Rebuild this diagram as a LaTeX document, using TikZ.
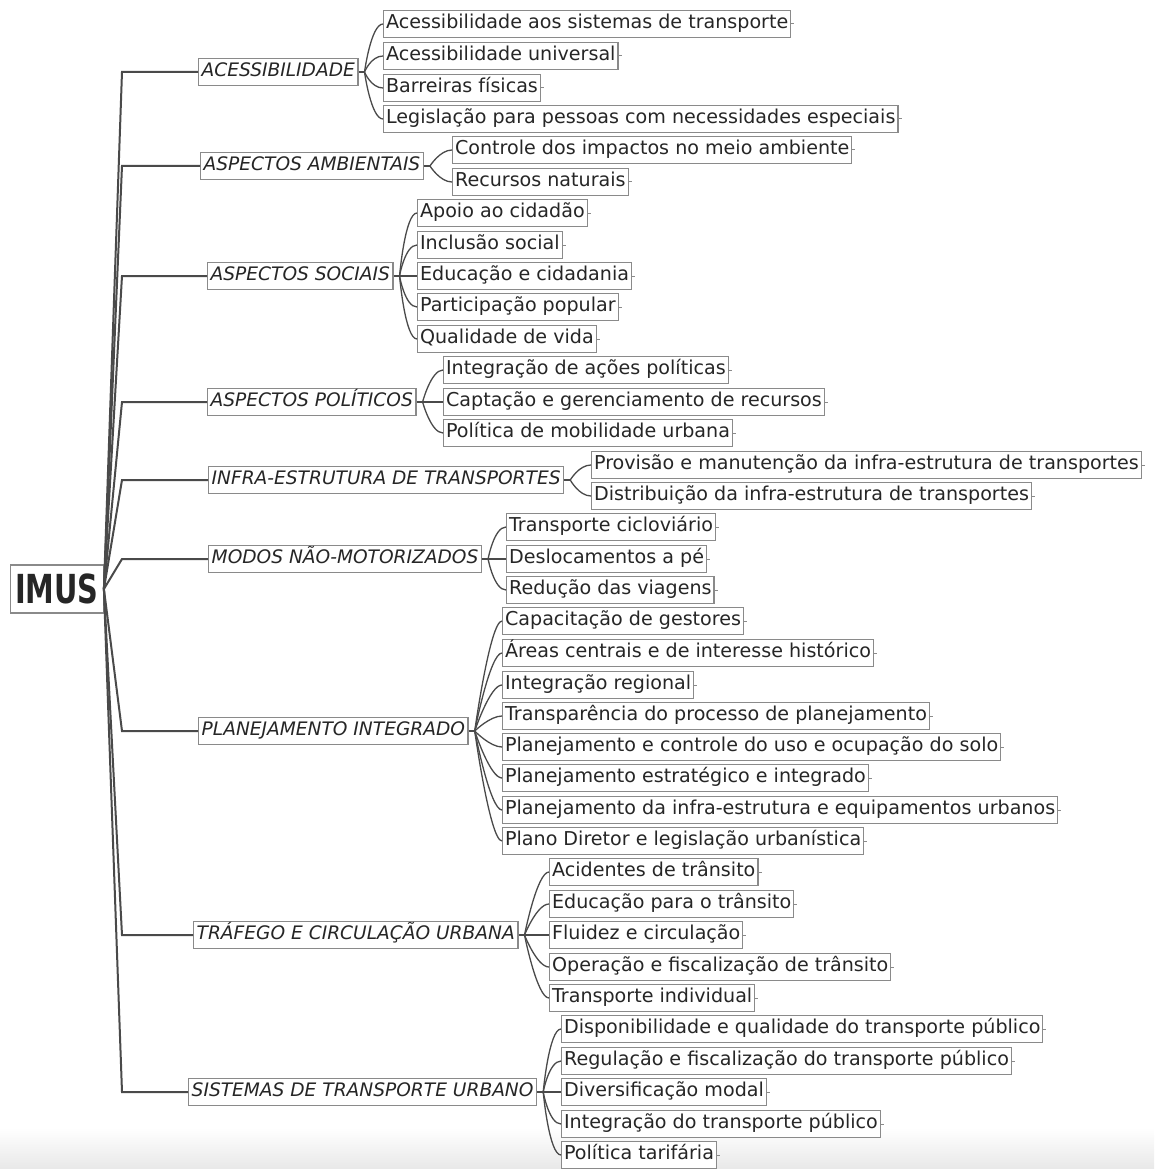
\documentclass[tikz,border=0pt]{standalone}
\usepackage{fontspec}
\setmainfont{DejaVu Sans}
\usepackage{graphicx}
\usetikzlibrary{calc}
\definecolor{ink}{HTML}{262626}
\definecolor{linec}{HTML}{4A4A4A}
\definecolor{boxc}{HTML}{8A8A8A}
\tikzset{
  leafbox/.style={draw=boxc, line width=1.2pt, fill=white, inner xsep=2.5pt, inner ysep=0pt,
    text height=14pt, text depth=4.5pt, minimum height=27pt, text=ink,
    font=\fontsize{19.1}{20}\selectfont, anchor=west},
  catbox/.style={draw=boxc, line width=1.4pt, fill=white, inner xsep=3pt, inner ysep=0pt,
    text height=14pt, text depth=4.5pt, minimum height=27pt, text=ink,
    font=\fontsize{18.6}{20}\selectfont\itshape, anchor=west},
  rootbox/.style={draw=boxc, line width=1.4pt, fill=white, inner xsep=4.5pt, inner ysep=0pt,
    minimum height=48pt, text=ink, font=\fontsize{40}{40}\selectfont\bfseries, anchor=west},
  trunk/.style={draw=linec, line width=2pt},
  twig/.style={draw=linec, line width=1.3pt},
  tick/.style={draw=boxc, line width=1pt}
}
\newcommand\mmbranch[6]{%
  \node[catbox] (#1) at (#2,#3) {#4};
  \draw[trunk] (imus.east) -- (122,#3) -- (#1.west);
  \coordinate (#1s) at ([xshift=6pt]#1.east);
  \draw[twig] (#1.east) -- (#1s);
  \foreach \yy/\tt [count=\i] in {#6} {
    \node[leafbox] (#1-\i) at (#5,\yy) {\tt};
    \draw[twig] (#1s) .. controls (#1s) and ([xshift=-12pt]#1-\i.west) .. (#1-\i.west);
    \draw[tick] (#1-\i.east) -- ++(3,0);
  }
}
\begin{document}
\begin{tikzpicture}[x=1pt,y=-1pt]
\useasboundingbox (0,0) rectangle (1154,1169);
\fill[white] (0,0) rectangle (1154,1169);
\shade[top color=white, bottom color=black!9] (0,1128) rectangle (1154,1169);

\node[rootbox] (imus) at (10,589) {\scalebox{0.72}[1]{IMUS}};

\mmbranch{acc}{198}{72}{ACESSIBILIDADE}{383}{24/{Acessibilidade aos sistemas de transporte},56/{Acessibilidade universal},88/{Barreiras físicas},119/{Legislação para pessoas com necessidades especiais}}

\mmbranch{amb}{200}{166}{ASPECTOS AMBIENTAIS}{452}{150/{Controle dos impactos no meio ambiente},182/{Recursos naturais}}

\mmbranch{soc}{207}{276}{ASPECTOS SOCIAIS}{417}{213/{Apoio ao cidadão},245/{Inclusão social},276/{Educação e cidadania},307/{Participação popular},339/{Qualidade de vida}}

\mmbranch{pol}{207}{402}{ASPECTOS POLÍTICOS}{443}{370/{Integração de ações políticas},402/{Captação e gerenciamento de recursos},433/{Política de mobilidade urbana}}

\mmbranch{inf}{208}{480}{INFRA-ESTRUTURA DE TRANSPORTES}{591}{465/{Provisão e manutenção da infra-estrutura de transportes},496/{Distribuição da infra-estrutura de transportes}}

\mmbranch{mod}{208}{559}{MODOS NÃO-MOTORIZADOS}{506}{527/{Transporte cicloviário},559/{Deslocamentos a pé},590/{Redução das viagens}}

\mmbranch{pla}{198}{731}{PLANEJAMENTO INTEGRADO}{502}{621/{Capacitação de gestores},653/{Áreas centrais e de interesse histórico},685/{Integração regional},716/{Transparência do processo de planejamento},747/{Planejamento e controle do uso e ocupação do solo},778/{Planejamento estratégico e integrado},810/{Planejamento da infra-estrutura e equipamentos urbanos},841/{Plano Diretor e legislação urbanística}}

\mmbranch{tra}{193}{935}{TRÁFEGO E CIRCULAÇÃO URBANA}{549}{872/{Acidentes de trânsito},904/{Educação para o trânsito},935/{Fluidez e circulação},967/{Operação e fiscalização de trânsito},998/{Transporte individual}}

\mmbranch{sis}{188}{1092}{SISTEMAS DE TRANSPORTE URBANO}{561}{1029/{Disponibilidade e qualidade do transporte público},1061/{Regulação e fiscalização do transporte público},1092/{Diversificação modal},1124/{Integração do transporte público},1155/{Política tarifária}}
\end{tikzpicture}
\end{document}
